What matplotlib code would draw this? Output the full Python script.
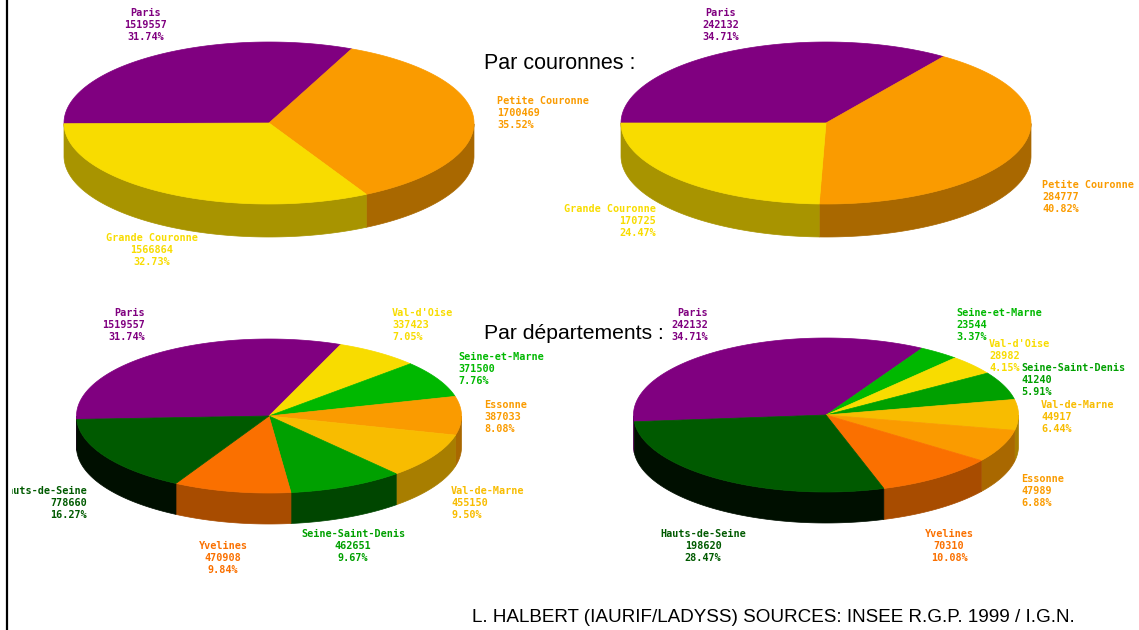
import matplotlib

matplotlib.use("Agg")
import matplotlib.pyplot as plt
import numpy as np
from matplotlib.transforms import Bbox

WIDTH_PX = 1139
HEIGHT_PX = 630

PURPLE = ("#800080", "#560056")
ORANGE = ("#FA9B00", "#A96800")
YELLOW = ("#F8DC00", "#A89400")
DARK_GREEN = ("#005A00", "#000F00")
RED_ORANGE = ("#FA7000", "#A84C00")
MID_GREEN = ("#00A000", "#004600")
LIGHT_GREEN = ("#00B800", "#007C00")
GOLD = ("#F8BC00", "#A87E00")

# Par couronnes, left pie
LEFT_RING_NAMES = ["Paris", "Petite Couronne", "Grande Couronne"]
LEFT_RING_VALUES = [1519557, 1700469, 1566864]
LEFT_RING_PCT = ["31.74%", "35.52%", "32.73%"]

# Par couronnes, right pie
RIGHT_RING_NAMES = ["Paris", "Petite Couronne", "Grande Couronne"]
RIGHT_RING_VALUES = [242132, 284777, 170725]
RIGHT_RING_PCT = ["34.71%", "40.82%", "24.47%"]

# Par departements, left pie
LEFT_DEPT_NAMES = [
    "Paris", "Val-d'Oise", "Seine-et-Marne", "Essonne",
    "Val-de-Marne", "Seine-Saint-Denis", "Yvelines", "Hauts-de-Seine",
]
LEFT_DEPT_VALUES = [1519557, 337423, 371500, 387033, 455150, 462651, 470908, 778660]
LEFT_DEPT_PCT = ["31.74%", "7.05%", "7.76%", "8.08%", "9.50%", "9.67%", "9.84%", "16.27%"]

# Par departements, right pie
RIGHT_DEPT_NAMES = [
    "Paris", "Seine-et-Marne", "Val-d'Oise", "Seine-Saint-Denis",
    "Val-de-Marne", "Essonne", "Yvelines", "Hauts-de-Seine",
]
RIGHT_DEPT_VALUES = [242132, 23544, 28982, 41240, 44917, 47989, 70310, 198620]
RIGHT_DEPT_PCT = ["34.71%", "3.37%", "4.15%", "5.91%", "6.44%", "6.88%", "10.08%", "28.47%"]

RING_COLORS = [PURPLE, ORANGE, YELLOW]
LEFT_DEPT_COLORS = [PURPLE, YELLOW, LIGHT_GREEN, ORANGE, GOLD, MID_GREEN, RED_ORANGE, DARK_GREEN]
RIGHT_DEPT_COLORS = [PURPLE, LIGHT_GREEN, YELLOW, MID_GREEN, GOLD, ORANGE, RED_ORANGE, DARK_GREEN]

# x, y of first line, alignment
LEFT_RING_POS = [(146, 13, "center"), (497, 101, "left"), (152, 238, "center")]
RIGHT_RING_POS = [(721, 13, "center"), (1042, 185, "left"), (656, 209, "right")]
LEFT_DEPT_POS = [
    (145, 313, "right"), (392, 313, "left"), (458, 357, "left"), (484, 405, "left"),
    (451, 491, "left"), (353, 534, "center"), (223, 546, "center"), (87, 491, "right"),
]
RIGHT_DEPT_POS = [
    (708, 313, "right"), (956, 313, "left"), (989, 344, "left"), (1021, 368, "left"),
    (1041, 405, "left"), (1021, 479, "left"), (949, 534, "center"), (703, 534, "center"),
]

LABEL_LINE_PX = 11.8
LABEL_SIZE = 7.3
CLIP_LEFT_PX = 12


def draw_pie(ax, values, colors, center, radii, depth, start_deg):
    """Draw a tilted pie with a side wall, wedges going clockwise from start_deg."""
    cx, cy = center
    rx, ry = radii
    fractions = np.array(values, dtype=float) / sum(values)
    edges = start_deg - np.concatenate([[0], np.cumsum(fractions)]) * 360

    for i, (top, side) in enumerate(colors):
        t_high, t_low = edges[i], edges[i + 1]

        # wall is only visible on the front half of the ellipse
        wall = np.linspace(t_high, t_low, 200)
        wall = wall[np.sin(np.radians(wall)) <= 0]
        if len(wall) > 1:
            xs = cx + rx * np.cos(np.radians(wall))
            ys = cy - ry * np.sin(np.radians(wall))
            ax.fill(
                np.concatenate([xs, xs[::-1]]),
                np.concatenate([ys, ys[::-1] + depth]),
                color=side, lw=0.5, zorder=2,
            )

        arc = np.radians(np.linspace(t_high, t_low, 200))
        ax.fill(
            np.concatenate([[cx], cx + rx * np.cos(arc)]),
            np.concatenate([[cy], cy - ry * np.sin(arc)]),
            color=top, lw=0.5, zorder=3,
        )


def draw_labels(ax, names, values, pcts, colors, positions):
    """Write the three line label of each wedge."""
    # display pixels, the Hauts-de-Seine label runs off the frame on the left
    clip = Bbox([[CLIP_LEFT_PX, 0], [WIDTH_PX, HEIGHT_PX]])
    for name, value, pct, color, (x, y, ha) in zip(names, values, pcts, colors, positions):
        for j, line in enumerate([name, str(value), pct]):
            txt = ax.text(
                x, y + j * LABEL_LINE_PX, line, color=color[0], ha=ha, va="center",
                family="DejaVu Sans Mono", fontsize=LABEL_SIZE, weight="bold", zorder=5,
            )
            txt.set_clip_box(clip)
            txt.set_clip_on(True)


def main():
    fig = plt.figure(figsize=(WIDTH_PX / 100, HEIGHT_PX / 100), dpi=100)
    ax = fig.add_axes([0, 0, 1, 1])
    ax.set_xlim(0, WIDTH_PX)
    ax.set_ylim(HEIGHT_PX, 0)
    ax.axis("off")

    ax.plot([7, 7], [0, HEIGHT_PX], color="black", lw=1.6, zorder=6)

    draw_pie(ax, LEFT_RING_VALUES, RING_COLORS, (269, 123), (205, 81), 33, 180.5)
    draw_pie(ax, RIGHT_RING_VALUES, RING_COLORS, (826, 123), (205, 81), 33, 180)
    draw_pie(ax, LEFT_DEPT_VALUES, LEFT_DEPT_COLORS, (269, 416), (192.5, 77), 31, 182.5)
    draw_pie(ax, RIGHT_DEPT_VALUES, RIGHT_DEPT_COLORS, (826, 415), (192.5, 77), 31, 185)

    draw_labels(ax, LEFT_RING_NAMES, LEFT_RING_VALUES, LEFT_RING_PCT, RING_COLORS, LEFT_RING_POS)
    draw_labels(ax, RIGHT_RING_NAMES, RIGHT_RING_VALUES, RIGHT_RING_PCT, RING_COLORS, RIGHT_RING_POS)
    draw_labels(ax, LEFT_DEPT_NAMES, LEFT_DEPT_VALUES, LEFT_DEPT_PCT, LEFT_DEPT_COLORS, LEFT_DEPT_POS)
    draw_labels(ax, RIGHT_DEPT_NAMES, RIGHT_DEPT_VALUES, RIGHT_DEPT_PCT, RIGHT_DEPT_COLORS, RIGHT_DEPT_POS)

    ax.text(484, 63.5, "Par couronnes :", family="Liberation Sans", fontsize=15.5, va="center")
    ax.text(484, 333.5, "Par départements :", family="Liberation Sans", fontsize=15.2, va="center")
    ax.text(
        472, 617, "L. HALBERT (IAURIF/LADYSS) SOURCES: INSEE R.G.P. 1999 / I.G.N.",
        family="Liberation Sans", fontsize=13.6, va="center",
    )

    fig.savefig("out.png", dpi=100, facecolor="white")


if __name__ == "__main__":
    main()
